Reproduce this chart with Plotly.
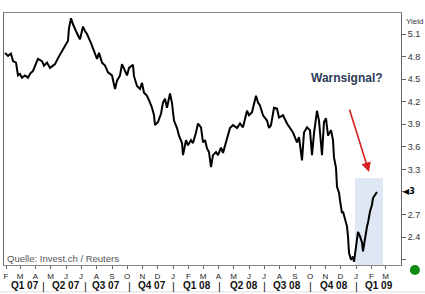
import plotly.graph_objects as go

dates = [
    "2007-01-30", "2007-02-05", "2007-02-11", "2007-02-15", "2007-02-21", "2007-02-25", "2007-03-01",
    "2007-03-05", "2007-03-11", "2007-03-17", "2007-03-21", "2007-03-27", "2007-04-04", "2007-04-06",
    "2007-04-14", "2007-04-18", "2007-04-24", "2007-04-30", "2007-05-06", "2007-05-10", "2007-05-16",
    "2007-05-24", "2007-05-30", "2007-06-05", "2007-06-07", "2007-06-11", "2007-06-15", "2007-06-19",
    "2007-06-23", "2007-06-29", "2007-07-05", "2007-07-09", "2007-07-13", "2007-07-21", "2007-07-25",
    "2007-08-02", "2007-08-06", "2007-08-12", "2007-08-18", "2007-08-24", "2007-09-01", "2007-09-07",
    "2007-09-11", "2007-09-17", "2007-09-21", "2007-09-25", "2007-10-01", "2007-10-05", "2007-10-13",
    "2007-10-15", "2007-10-21", "2007-10-27", "2007-10-31", "2007-11-04", "2007-11-10", "2007-11-14",
    "2007-11-20", "2007-11-24", "2007-11-26", "2007-12-02", "2007-12-08", "2007-12-12", "2007-12-16",
    "2007-12-20", "2007-12-26", "2007-12-30", "2008-01-03", "2008-01-09", "2008-01-13", "2008-01-19",
    "2008-01-21", "2008-01-27", "2008-01-31", "2008-02-06", "2008-02-10", "2008-02-16", "2008-02-20",
    "2008-02-26", "2008-03-01", "2008-03-05", "2008-03-09", "2008-03-13", "2008-03-17", "2008-03-21",
    "2008-03-27", "2008-03-31", "2008-04-06", "2008-04-10", "2008-04-18", "2008-04-24", "2008-04-30",
    "2008-05-08", "2008-05-14", "2008-05-20", "2008-05-28", "2008-06-01", "2008-06-07", "2008-06-11",
    "2008-06-15", "2008-06-19", "2008-06-23", "2008-06-29", "2008-07-03", "2008-07-07", "2008-07-11",
    "2008-07-15", "2008-07-21", "2008-07-27", "2008-07-31", "2008-08-08", "2008-08-16", "2008-08-22",
    "2008-08-28", "2008-09-05", "2008-09-09", "2008-09-15", "2008-09-19", "2008-09-25", "2008-10-01",
    "2008-10-05", "2008-10-09", "2008-10-15", "2008-10-19", "2008-10-25", "2008-10-29", "2008-11-02",
    "2008-11-06", "2008-11-12", "2008-11-16", "2008-11-18", "2008-11-22", "2008-11-24", "2008-11-28",
    "2008-11-30", "2008-12-04", "2008-12-06", "2008-12-10", "2008-12-14", "2008-12-16", "2008-12-18",
    "2008-12-22", "2008-12-26", "2008-12-28", "2009-01-01", "2009-01-05", "2009-01-09", "2009-01-13",
    "2009-01-15", "2009-01-19", "2009-01-23", "2009-01-25", "2009-01-29", "2009-02-02", "2009-02-04",
    "2009-02-08", "2009-02-12",
]

yields = [
    4.85, 4.81, 4.84, 4.74, 4.72, 4.55, 4.57,
    4.52, 4.55, 4.52, 4.57, 4.61, 4.74, 4.77,
    4.74, 4.68, 4.72, 4.65, 4.68, 4.70, 4.78,
    4.88, 4.94, 5.01, 5.18, 5.31, 5.23, 5.18,
    5.11, 5.03, 5.20, 5.14, 5.10, 4.98, 4.90,
    4.77, 4.85, 4.72, 4.68, 4.59, 4.55, 4.37,
    4.48, 4.55, 4.70, 4.64, 4.55, 4.65, 4.69,
    4.54, 4.41, 4.37, 4.45, 4.32, 4.28, 4.22,
    4.12, 4.02, 3.89, 3.93, 4.04, 4.19, 4.24,
    4.12, 4.31, 4.18, 3.95, 3.85, 3.75, 3.65,
    3.49, 3.69, 3.62, 3.69, 3.65, 3.79, 3.91,
    3.86, 3.66, 3.69, 3.58, 3.53, 3.33, 3.49,
    3.53, 3.49, 3.59, 3.52, 3.73, 3.85, 3.89,
    3.85, 3.91, 3.86, 4.08, 4.02, 4.06, 4.18,
    4.28, 4.19, 4.15, 4.02, 3.98, 3.95, 3.85,
    3.89, 4.12, 4.11, 3.99, 4.02, 3.91, 3.85,
    3.79, 3.66, 3.73, 3.42, 3.79, 3.86, 3.82,
    3.49, 3.78, 4.08, 3.95, 3.49, 3.93, 3.98,
    3.75, 3.82, 3.69, 3.46, 3.32, 3.07, 2.99,
    2.89, 2.72, 2.74, 2.63, 2.54, 2.41, 2.19,
    2.10, 2.14, 2.07, 2.27, 2.47, 2.41, 2.33,
    2.21, 2.41, 2.54, 2.59, 2.74, 2.83, 2.92,
    2.96, 3.00,
]

month_ticks = [
    "2007-02-01", "2007-03-01", "2007-04-01", "2007-05-01", "2007-06-01", "2007-07-01",
    "2007-08-01", "2007-09-01", "2007-10-01", "2007-11-01", "2007-12-01", "2008-01-01",
    "2008-02-01", "2008-03-01", "2008-04-01", "2008-05-01", "2008-06-01", "2008-07-01",
    "2008-08-01", "2008-09-01", "2008-10-01", "2008-11-01", "2008-12-01", "2009-01-01",
    "2009-02-01", "2009-03-01",
]
month_labels = list("FMAMJJASONDJFMAMJJASONDJFM")

quarter_labels = ["Q1 07", "Q2 07", "Q3 07", "Q4 07", "Q1 08", "Q2 08", "Q3 08", "Q4 08", "Q1 09"]
quarter_pos = [0.052, 0.155, 0.258, 0.373, 0.486, 0.605, 0.713, 0.831, 0.945]
sep_pos = [0.100, 0.206, 0.317, 0.428, 0.542, 0.655, 0.773, 0.889]

y_ticks = [2.1, 2.4, 2.7, 3.0, 3.3, 3.6, 3.9, 4.2, 4.5, 4.8, 5.1]
y_labels = ["", "2.4", "2.7", "", "3.3", "3.6", "3.9", "4.2", "4.5", "4.8", "5.1"]

highlight = ("2008-12-30", "2009-02-24", 3.186)
last_value = 3.0

FONT = "Liberation Sans, Arial, sans-serif"

fig = go.Figure()
fig.add_trace(go.Scatter(
    x=dates, y=yields, mode="lines",
    line=dict(color="black", width=2),
    hoverinfo="skip", showlegend=False,
))

fig.add_shape(type="rect", xref="x", yref="y",
              x0=highlight[0], x1=highlight[1], y0=2.029, y1=highlight[2],
              fillcolor="#dfe7f5", line=dict(width=0), layer="below")

annotations = []
for q, p in zip(quarter_labels, quarter_pos):
    annotations.append(dict(text="<b>%s</b>" % q, x=p, y=-0.083, xref="paper", yref="paper",
                            showarrow=False, xanchor="center", yanchor="middle",
                            font=dict(family=FONT, size=10, color="#111")))
for p in sep_pos:
    annotations.append(dict(text="|", x=p, y=-0.083, xref="paper", yref="paper",
                            showarrow=False, xanchor="center", yanchor="middle",
                            font=dict(family=FONT, size=11, color="#222")))

annotations += [
    dict(text="Quelle: Invest.ch / Reuters", x=0.003, y=0.024, xref="paper", yref="paper",
         showarrow=False, xanchor="left", yanchor="middle",
         font=dict(family=FONT, size=9.5, color="#555")),
    dict(text="<b>Warnsignal?</b>", x=0.864, y=0.742, xref="paper", yref="paper",
         showarrow=False, xanchor="center", yanchor="middle",
         font=dict(family=FONT, size=12, color="#2e3b55")),
    dict(text="Yield", x=1.007, y=0.968, xref="paper", yref="paper",
         showarrow=False, xanchor="left", yanchor="middle",
         font=dict(family=FONT, size=8, color="#333")),
    dict(text="◀<b>3</b>", x=1.0, y=last_value, xref="paper", yref="y",
         showarrow=False, xanchor="left", yanchor="middle",
         font=dict(family="DejaVu Sans", size=8, color="#000")),
    dict(text="", x="2009-01-27", y=3.266, xref="x", yref="y",
         showarrow=True, ax=-20, ay=-64, axref="pixel", ayref="pixel",
         arrowhead=2, arrowsize=1.2, arrowwidth=1.6, arrowcolor="#d42020"),
]

fig.add_shape(type="circle", xref="paper", yref="paper", xsizemode="pixel", ysizemode="pixel",
              xanchor=1.035, yanchor=-0.02, x0=-5, x1=5, y0=-5, y1=5,
              fillcolor="#0c8c10", line=dict(width=0))
fig.add_shape(type="line", xref="paper", yref="paper", x0=-0.02, x1=1.08, y0=-0.107, y1=-0.107,
              line=dict(color="#dddddd", width=1))

fig.update_layout(
    width=425, height=294,
    margin=dict(l=4, r=24, t=13, b=29),
    paper_bgcolor="white", plot_bgcolor="white",
    annotations=annotations,
    xaxis=dict(
        type="date", range=["2007-01-28", "2009-04-01"],
        tickmode="array", tickvals=month_ticks, ticktext=month_labels,
        ticks="outside", ticklen=3, tickcolor="#666",
        tickfont=dict(family=FONT, size=8, color="#222"),
        showgrid=False, zeroline=False,
        showline=True, linecolor="#888", linewidth=1, mirror=True,
        fixedrange=True,
    ),
    yaxis=dict(
        side="right", range=[2.029, 5.380],
        tickmode="array", tickvals=y_ticks, ticktext=y_labels,
        ticks="outside", ticklen=4, tickcolor="#666",
        tickfont=dict(family=FONT, size=9, color="#333"),
        showgrid=False, zeroline=False,
        showline=True, linecolor="#666", linewidth=1, mirror=True,
        fixedrange=True,
    ),
)

fig.write_html("out.html")
